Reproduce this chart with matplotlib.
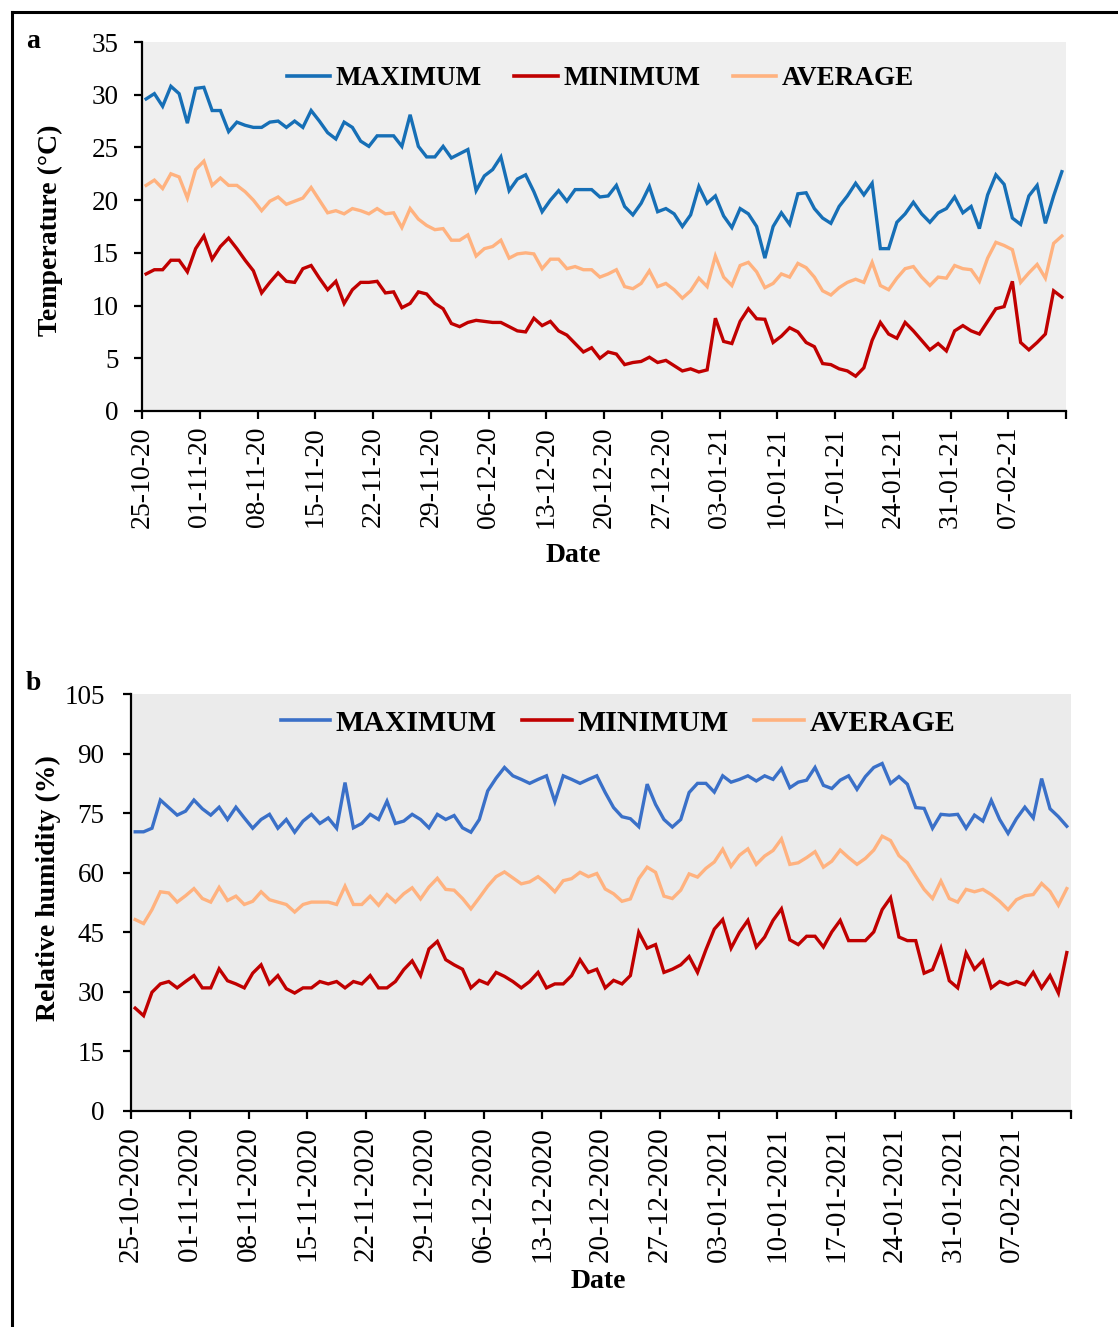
import numpy as np
import matplotlib
matplotlib.use("Agg")
import matplotlib.pyplot as plt
from matplotlib.lines import Line2D

# Daily tick labels, one every 7 days
TEMP_TICKS = ["25-10-20", "01-11-20", "08-11-20", "15-11-20", "22-11-20", "29-11-20",
              "06-12-20", "13-12-20", "20-12-20", "27-12-20", "03-01-21", "10-01-21",
              "17-01-21", "24-01-21", "31-01-21", "07-02-21"]
RH_TICKS = ["25-10-2020", "01-11-2020", "08-11-2020", "15-11-2020", "22-11-2020",
            "29-11-2020", "06-12-2020", "13-12-2020", "20-12-2020", "27-12-2020",
            "03-01-2021", "10-01-2021", "17-01-2021", "24-01-2021", "31-01-2021",
            "07-02-2021"]

# Temperature (deg C), 25-10-2020 to 13-02-2021
temp_max = [29.6, 30.1, 28.9, 30.8, 30.1, 27.3, 30.6, 30.7, 28.5, 28.5,
            26.5, 27.4, 27.1, 26.9, 26.9, 27.4, 27.5, 26.9, 27.5, 26.9,
            28.5, 27.5, 26.4, 25.8, 27.4, 26.9, 25.6, 25.1, 26.1, 26.1,
            26.1, 25.1, 28.1, 25.1, 24.1, 24.1, 25.1, 24.0,
            24.4, 24.8, 20.9, 22.3, 22.9, 24.1, 20.9, 22.0, 22.4, 20.8,
            18.9, 20.0, 20.9, 19.9, 21.0, 21.0, 21.0, 20.3, 20.4, 21.4,
            19.4, 18.6, 19.7, 21.3, 18.9, 19.2, 18.7, 17.5, 18.6, 21.3,
            19.7, 20.4, 18.5, 17.4, 19.2, 18.7, 17.5,
            14.5, 17.5, 18.8, 17.7, 20.6, 20.7, 19.2, 18.3, 17.8, 19.4,
            20.4, 21.6, 20.5, 21.6, 15.4, 15.4, 17.9, 18.7, 19.8, 18.7,
            17.9, 18.8, 19.2, 20.3, 18.8, 19.4, 17.3, 20.5, 22.4, 21.5,
            18.3, 17.7, 20.4, 21.4, 17.8, 20.4, 22.7]
temp_min = [13.0, 13.4, 13.4, 14.3, 14.3, 13.2, 15.4, 16.6, 14.4, 15.6,
            16.4, 15.4, 14.3, 13.3, 11.2, 12.2, 13.1, 12.3, 12.2, 13.5,
            13.8, 12.6, 11.5, 12.3, 10.2, 11.5, 12.2, 12.2, 12.3, 11.2,
            11.3, 9.8, 10.2, 11.3, 11.1, 10.2, 9.7, 8.3,
            8.0, 8.4, 8.6, 8.5, 8.4, 8.4, 8.0, 7.6, 7.5, 8.8,
            8.1, 8.5, 7.6, 7.2, 6.4, 5.6, 6.0, 5.0, 5.6, 5.4,
            4.4, 4.6, 4.7, 5.1, 4.6, 4.8, 4.3, 3.8, 4.0, 3.7,
            3.9, 8.8, 6.6, 6.4, 8.5, 9.7, 8.75,
            8.7, 6.5, 7.1, 7.9, 7.5, 6.5, 6.1, 4.5, 4.4, 4.0,
            3.8, 3.3, 4.1, 6.7, 8.4, 7.3, 6.9, 8.4, 7.6, 6.7,
            5.8, 6.4, 5.7, 7.6, 8.1, 7.6, 7.3, 8.5, 9.7, 9.9,
            12.3, 6.5, 5.8, 6.5, 7.3, 11.4, 10.8]
temp_avg = [21.4, 21.9, 21.1, 22.5, 22.2, 20.2, 22.9, 23.7, 21.4, 22.1,
            21.4, 21.4, 20.8, 20.0, 19.0, 19.9, 20.3, 19.6, 19.9, 20.2,
            21.2, 20.0, 18.8, 19.0, 18.7, 19.2, 19.0, 18.7, 19.2, 18.7,
            18.8, 17.4, 19.2, 18.2, 17.6, 17.2, 17.3, 16.2,
            16.2, 16.7, 14.7, 15.4, 15.6, 16.2, 14.5, 14.9, 15.0, 14.9,
            13.5, 14.4, 14.4, 13.5, 13.7, 13.4, 13.4, 12.7, 13.0, 13.4,
            11.8, 11.6, 12.1, 13.3, 11.8, 12.1, 11.5, 10.7, 11.4, 12.6,
            11.8, 14.7, 12.7, 11.9, 13.8, 14.1, 13.2,
            11.7, 12.1, 13.0, 12.7, 14.0, 13.6, 12.7, 11.4, 11.0, 11.7,
            12.2, 12.5, 12.2, 14.1, 11.9, 11.5, 12.6, 13.5, 13.7, 12.7,
            11.9, 12.7, 12.6, 13.8, 13.5, 13.4, 12.3, 14.5, 16.0, 15.7,
            15.3, 12.2, 13.1, 13.9, 12.6, 15.9, 16.6]

# Relative humidity (%), same days
rh_max = [70.3, 70.3, 71.2, 78.3, 76.4, 74.5, 75.5, 78.3, 76.1, 74.5,
          76.5, 73.4, 76.5, 73.8, 71.2, 73.4, 74.7, 71.2, 73.4, 70.2,
          73.0, 74.7, 72.4, 73.8, 71.2, 82.7, 71.3, 72.4, 74.7, 73.4,
          78.0, 72.4, 73.0, 74.7, 73.4, 71.3, 74.7,
          73.4, 74.4, 71.3, 70.2, 73.4, 80.6, 83.8, 86.5, 84.4, 83.5,
          82.5, 83.5, 84.4, 77.9, 84.4, 83.5, 82.5, 83.5, 84.4, 80.2,
          76.4, 74.1, 73.6, 71.6, 82.3, 77.2, 73.4, 71.5, 73.4, 80.2,
          82.5, 82.5, 80.3, 84.4, 82.8, 83.5, 84.4,
          83.1, 84.4, 83.5, 86.2, 81.4, 82.8, 83.3, 86.5, 82.0, 81.2,
          83.3, 84.4, 81.0, 84.2, 86.5, 87.5, 82.5, 84.2, 82.3, 76.4,
          76.2, 71.2, 74.7, 74.5, 74.7, 71.2, 74.5, 73.0, 78.2, 73.4,
          69.9, 73.6, 76.5, 73.8, 83.7, 76.1, 74.1, 71.7]
rh_min = [25.9, 24.0, 29.9, 32.0, 32.6, 31.0, 32.6, 34.1, 31.0, 31.0,
          35.8, 32.8, 32.0, 31.0, 34.7, 36.8, 32.0, 34.1, 30.8, 29.7,
          31.0, 31.0, 32.6, 32.0, 32.6, 31.0, 32.6, 32.0, 34.1, 31.0,
          31.0, 32.6, 35.6, 37.8, 34.1, 40.8, 42.7,
          38.1, 36.8, 35.7, 31.0, 32.9, 32.0, 34.9, 33.9, 32.6, 31.0,
          32.6, 34.9, 31.0, 32.0, 32.0, 34.1, 38.1, 34.9, 35.7, 31.0,
          32.9, 32.0, 34.1, 45.0, 41.0, 41.9, 34.9, 35.7, 36.8, 38.9,
          34.9, 40.6, 45.8, 48.2, 41.0, 45.0, 48.0,
          41.3, 43.8, 48.0, 50.9, 43.1, 41.9, 44.0, 44.0, 41.3, 45.1,
          48.0, 42.9, 42.9, 42.9, 45.1, 50.7, 53.7, 43.8, 42.9, 42.9,
          34.7, 35.6, 41.0, 32.8, 31.0, 39.8, 35.7, 37.9, 31.0, 32.6,
          31.8, 32.6, 31.8, 34.9, 31.0, 34.1, 29.7, 39.9]
rh_avg = [48.2, 47.2, 50.7, 55.2, 54.9, 52.6, 54.2, 56.0, 53.5, 52.6,
          56.3, 53.0, 54.1, 52.0, 52.8, 55.2, 53.2, 52.6, 52.0, 50.1,
          52.0, 52.6, 52.6, 52.6, 52.0, 56.6, 52.0, 52.0, 54.1, 51.8,
          54.5, 52.6, 54.7, 56.2, 53.4, 56.4,
          58.6, 55.8, 55.6, 53.5, 50.9, 53.7, 56.6, 59.0, 60.2, 58.7,
          57.2, 57.7, 59.0, 57.3, 55.2, 58.0, 58.5, 60.1, 59.0, 59.8,
          55.9, 54.7, 52.8, 53.4, 58.5, 61.4, 60.1, 54.1, 53.5, 55.6,
          59.7, 58.9, 61.1, 62.7, 65.9, 61.6, 64.4, 66.0,
          62.1, 64.2, 65.6, 68.5, 62.1, 62.5, 63.8, 65.3, 61.4, 62.9,
          65.7, 63.8, 62.1, 63.6, 65.7, 69.2, 68.1, 64.3, 62.5, 59.1,
          55.8, 53.5, 57.9, 53.5, 52.6, 55.8, 55.2, 55.8, 54.5, 52.8,
          50.7, 53.2, 54.2, 54.5, 57.3, 55.3, 51.8, 56.0]

W, H = 1118, 1327
SERIF = "Liberation Serif"
RED = "#c00000"
ORANGE = "#ffb27f"


def fx(px):
    """pixel x -> figure fraction"""
    return px / W


def fy(py):
    """pixel y (from top) -> figure fraction"""
    return 1 - py / H


def draw_panel(ax, series, colors, ylim, ystep, ticklabels, xfs, legfs, legpos, hl, cs, ypad):
    # points sit in the middle of each day slot (Excel style)
    n = len(series[0][1])
    for (name, vals), c in zip(series, colors):
        ax.plot(np.arange(len(vals)) + 0.5, vals, color=c, lw=2.4, label=name,
                solid_joinstyle="miter")
    ax.set_xlim(0, n)
    ax.set_ylim(*ylim)
    ax.set_xticks(np.arange(0, n + 1, 7))
    ax.set_xticklabels(ticklabels + [""], rotation=90, fontsize=xfs, family=SERIF)
    ax.set_yticks(np.arange(ylim[0], ylim[1] + 1, ystep))
    ax.set_yticklabels([str(v) for v in np.arange(ylim[0], ylim[1] + 1, ystep)],
                       fontsize=19.5, family=SERIF)
    ax.spines["top"].set_visible(False)
    ax.spines["right"].set_visible(False)
    for s in ("left", "bottom"):
        ax.spines[s].set_linewidth(1.6)
    ax.tick_params(direction="out", length=6, width=1.6)
    ax.tick_params(axis="x", pad=5)
    ax.tick_params(axis="y", pad=ypad)
    leg = ax.legend(loc="center", bbox_to_anchor=legpos, ncol=3, frameon=False,
                    handlelength=hl, handletextpad=0.2, columnspacing=cs,
                    prop={"family": SERIF, "weight": "bold", "size": legfs})
    for line in leg.get_lines():
        line.set_linewidth(2.6)


fig = plt.figure(figsize=(W / 100, H / 100), dpi=100)

# panel a - temperature
ax1 = fig.add_axes([fx(142), fy(411), fx(1066) - fx(142), fy(42) - fy(411)])
ax1.set_facecolor("#efefef")
draw_panel(ax1, [("MAXIMUM", temp_max), ("MINIMUM", temp_min), ("AVERAGE", temp_avg)],
           ["#166fb6", RED, ORANGE], (0, 35), 5, TEMP_TICKS, 20, 19.5,
           (0.496, 0.9), 1.6, 1.2, 11)

# panel b - relative humidity
ax2 = fig.add_axes([fx(131), fy(1111), fx(1071) - fx(131), fy(694) - fy(1111)])
ax2.set_facecolor("#ebebeb")
draw_panel(ax2, [("MAXIMUM", rh_max), ("MINIMUM", rh_min), ("AVERAGE", rh_avg)],
           ["#3a70c8", RED, ORANGE], (0, 105), 15, RH_TICKS, 21, 21.5,
           (0.518, 0.93), 1.65, 0.85, 13)

# axis titles and panel letters
bold = dict(family=SERIF, weight="bold", fontsize=20)
fig.text(fx(50), fy(230), "Temperature (°C)", rotation=90, ha="center", va="center", **bold)
fig.text(fx(573), fy(555), "Date", ha="center", va="center", **bold)
fig.text(fx(48), fy(888), "Relative humidity (%)", rotation=90, ha="center", va="center", **bold)
fig.text(fx(598), fy(1282), "Date", ha="center", va="center", **bold)
fig.text(fx(33), fy(42), "a", ha="center", va="center", **bold)
fig.text(fx(33), fy(683), "b", ha="center", va="center", **bold)

# outer frame (top and left edges visible)
fig.add_artist(Line2D([fx(12), fx(12)], [0, fy(12)], color="black", lw=2.2))
fig.add_artist(Line2D([fx(12), 1], [fy(12), fy(12)], color="black", lw=2.2))

fig.savefig("out.png", dpi=100)
